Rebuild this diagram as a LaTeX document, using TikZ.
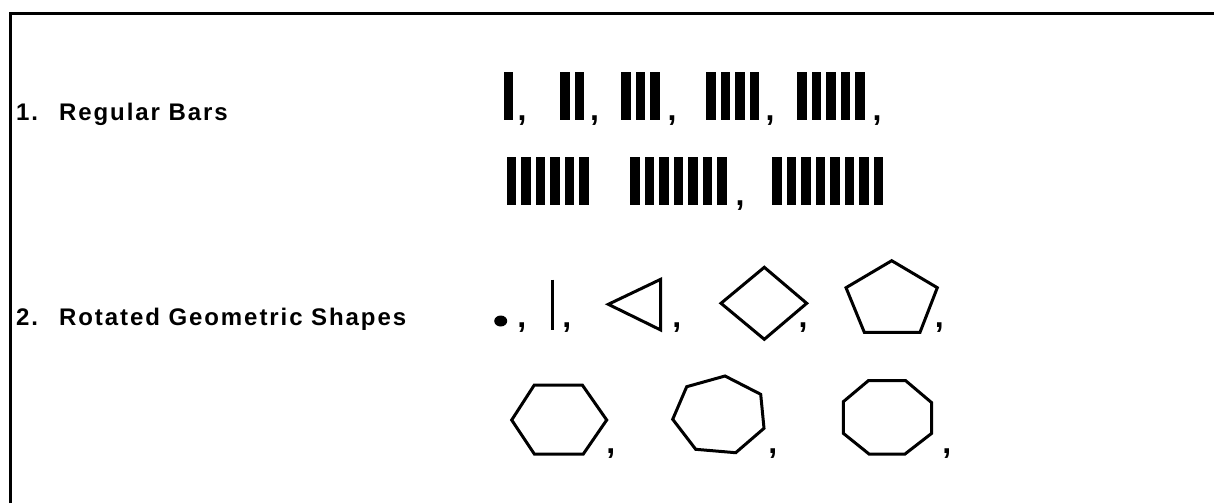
\documentclass[tikz,border=0pt]{standalone}
\usepackage{fontspec}
\setmainfont{Liberation Sans}
\newfontfamily\titlefont{Liberation Sans}[LetterSpace=8]
\usepackage{tikz}
\usetikzlibrary{positioning,calc}

\tikzset{
  barra/.style={fill=black},
  contorno/.style={draw=black,line width=3pt,line join=miter},
  virgola/.style={font=\fontsize{32}{34}\selectfont\bfseries,anchor=base,inner sep=0pt},
  titolo/.style={font=\titlefont\fontsize{24}{28}\selectfont\bfseries,anchor=base west,inner sep=0pt},
}

\begin{document}
\begin{tikzpicture}[x=1pt,y=-1pt]
\useasboundingbox (0,0) rectangle (1214,503);
% ---- cornice ----
\draw[line width=3pt] (10,503) -- (10,13.5) -- (1214,13.5);
% ---- riga 1: barre regolari ----
\node[titolo] (regbars) at (16,120) {1.\hspace{21pt}Regular Bars};
\foreach \xs/\n in {503.5/1,560/2,621/3,706/4,797/5}
  \foreach \k in {1,...,\n}
    \fill[barra] ({\xs+(\k-1)*14.5},72) rectangle +(9.5,48);
\foreach \x [count=\i] in {522,594.5,672,770,877}
  \node[virgola] (va-\i) at (\x,120) {,};
\foreach \xs/\n in {506.7/6,630/7,772/8}
  \foreach \k in {1,...,\n}
    \fill[barra] ({\xs+(\k-1)*14.5},157) rectangle +(9.5,48);
\node[virgola] (vb-1) at (740,205) {,};
% ---- riga 2: forme geometriche ruotate ----
\node[titolo] (rotshapes) at (16,325.7) {2.\hspace{21pt}Rotated Geometric Shapes};
\fill (500.7,321) ellipse (6.5 and 5.5);
\draw[contorno] (552.7,279.5) -- (552.7,329.5);
\draw[contorno] (608.3,304.3) -- (660.7,279.3) -- (660.7,330) -- cycle;
\draw[contorno] (764.3,267.3) -- (806.7,303.3) -- (764.3,339.3) -- (721,303.3) -- cycle;
\draw[contorno] (891.7,260.7) -- (937.3,287.7) -- (920,332.3) -- (864.3,332.3) -- (846,287.7) -- cycle;
\foreach \x [count=\i] in {521.7,566.7,676.7,803,939.3}
  \node[virgola] (vc-\i) at (\x,327) {,};
% esagono, ettagono, ottagono
\draw[contorno] (511.7,420) -- (534.3,385) -- (582.3,385) -- (606.7,420) -- (583.3,454) -- (534.3,454) -- cycle;
\draw[contorno] (686.7,386.7) -- (725,376) -- (760.7,394.3) -- (764,428.3) -- (735.7,452.7) -- (695.7,449.3) -- (672.7,419.3) -- cycle;
\draw[contorno] (868.3,380.7) -- (905.7,380.7) -- (931.7,402.7) -- (931.7,433.3) -- (905,454) -- (869,454) -- (843.3,433.3) -- (843.3,401.7) -- cycle;
\foreach \x [count=\i] in {610.7,772.7,946.7}
  \node[virgola] (vd-\i) at (\x,453) {,};
\end{tikzpicture}
\end{document}
